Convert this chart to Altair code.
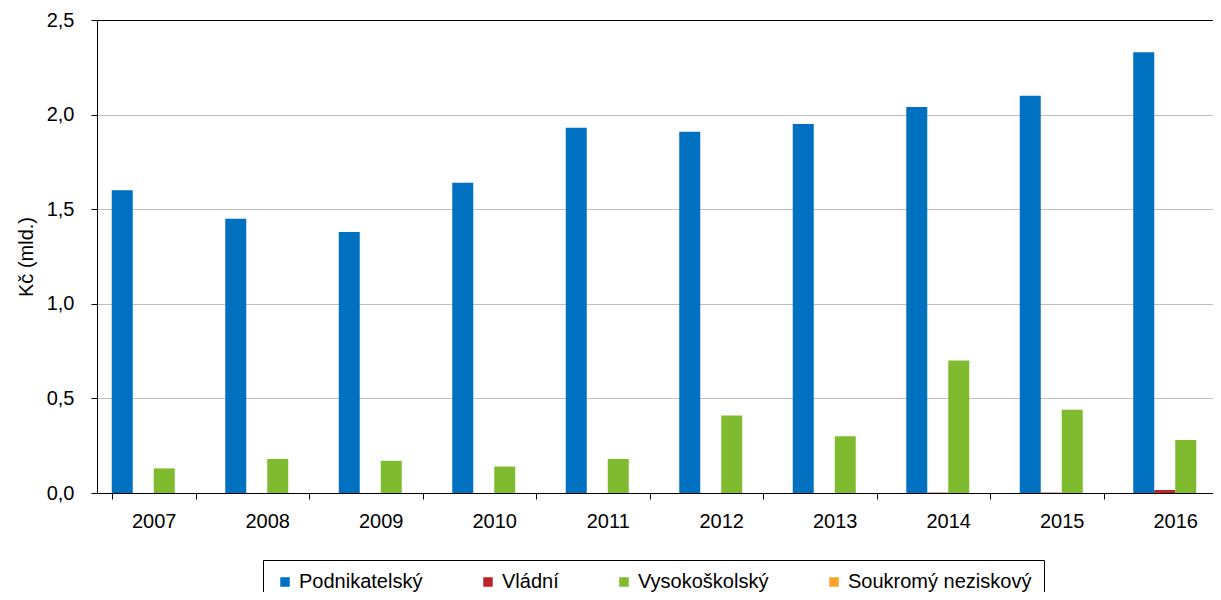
import altair as alt
import pandas as pd

years = ["2007", "2008", "2009", "2010", "2011", "2012", "2013", "2014", "2015", "2016"]
series = ["Podnikatelský", "Vládní", "Vysokoškolský", "Soukromý neziskový"]
podnikatelsky = [1.60, 1.45, 1.38, 1.64, 1.93, 1.91, 1.95, 2.04, 2.10, 2.33]
vladni = [0.0, 0.0, 0.0, 0.0, 0.0, 0.0, 0.0, 0.002, 0.002, 0.016]
vysokoskolsky = [0.13, 0.18, 0.17, 0.14, 0.18, 0.41, 0.30, 0.70, 0.44, 0.28]
soukromy = [0.0, 0.0, 0.0, 0.0, 0.0, 0.0, 0.0, 0.0, 0.0, 0.0]
colors = ["#0070C0", "#C0222A", "#7FBA2F", "#FFA22A"]
y_ticks = [0.0, 0.5, 1.0, 1.5, 2.0, 2.5]

rows = []
for name, vals in zip(series, [podnikatelsky, vladni, vysokoskolsky, soukromy]):
    for y, v in zip(years, vals):
        rows.append({"rok": y, "sektor": name, "hodnota": v})
df = pd.DataFrame(rows)

FONT = "Liberation Sans"

chart = alt.Chart(df).mark_bar().encode(
    x=alt.X("rok:N", sort=years,
            scale=alt.Scale(paddingInner=0.26, paddingOuter=0.13, range=[0, 1135]),
            axis=alt.Axis(title=None, labelAngle=0, tickBand="extent",
                          labelFontSize=20, labelPadding=12, tickSize=6,
                          domainColor="black", tickColor="black",
                          labelColor="black", labelFont=FONT, grid=False)),
    xOffset=alt.XOffset("sektor:N", sort=series,
                        scale=alt.Scale(paddingInner=0, paddingOuter=0)),
    y=alt.Y("hodnota:Q",
            scale=alt.Scale(domain=[0, 2.5], nice=False),
            axis=alt.Axis(title="Kč (mld.)", values=y_ticks,
                          labelExpr="replace(format(datum.value, '.1f'), '.', ',')",
                          labelFontSize=20, labelFont=FONT, labelColor="black",
                          labelPadding=17, tickSize=6, tickColor="black",
                          domainColor="black",
                          titleFontSize=20, titleFont=FONT, titleFontWeight="normal",
                          titleColor="black", titlePadding=10,
                          gridColor={"condition": {"test": "datum.value >= 2.5", "value": "black"},
                                     "value": "#BFBFBF"})),
    color=alt.Color("sektor:N", sort=series,
                    scale=alt.Scale(domain=series, range=colors),
                    legend=alt.Legend(title=None, orient="none", direction="horizontal",
                                      legendX=166, legendY=540,
                                      symbolType="square", symbolSize=90,
                                      symbolStrokeWidth=0,
                                      labelFontSize=20, labelFont=FONT, labelColor="black",
                                      columnPadding=55, padding=12,
                                      strokeColor="black", labelLimit=400)),
).properties(
    width=1116, height=473,
    autosize=alt.AutoSizeParams(type="none"),
    padding={"left": 89, "top": 12, "right": 0, "bottom": 99},
).configure_view(stroke="transparent")

chart.save("out.html", embed_options={"renderer": "svg", "actions": False})
